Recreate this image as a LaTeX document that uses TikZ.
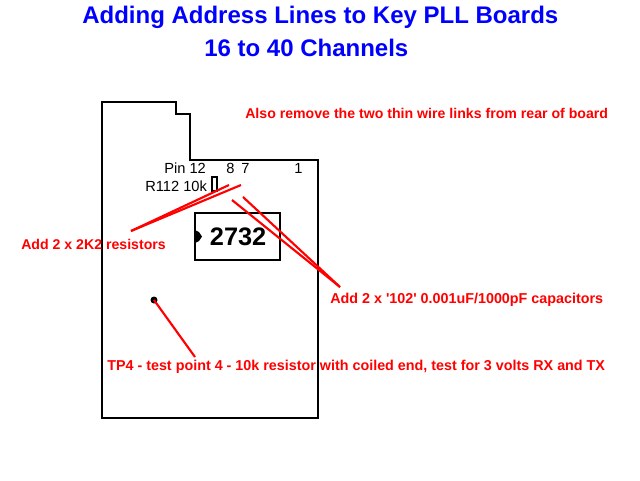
\documentclass[tikz,border=0pt]{standalone}
\usepackage{fontspec}
\setmainfont{Liberation Sans}
\definecolor{wirered}{RGB}{255,0,0}
\definecolor{titleblue}{RGB}{0,0,255}
\tikzset{
  board/.style={draw=black,line width=1.5pt},
  redlink/.style={draw=wirered,line width=1.6pt},
  redlabel/.style={text=wirered,inner sep=0pt,font=\bfseries\fontsize{10.6}{12}\selectfont},
  redwide/.style={redlabel,font=\bfseries\fontsize{10.75}{12}\selectfont},
  blacklabel/.style={text=black,inner sep=0pt,font=\fontsize{11}{12}\selectfont},
  titlelabel/.style={text=titleblue,inner sep=0pt,font=\bfseries\fontsize{18}{20}\selectfont}
}
\begin{document}
\begin{tikzpicture}[x=.75pt,y=-.75pt]
\useasboundingbox (0,0) rectangle (640,480);
\node[titlelabel,anchor=west] (title1) at (82,17) {Adding Address Lines to Key PLL Boards};
\node[titlelabel,anchor=west] (title2) at (204,48) {16 to 40 Channels};
% board outline
\draw[board] (102,102) -- (176,102) -- (176,114) -- (190,114) -- (190,160) -- (318,160) -- (318,418) -- (102,418) -- cycle;
% eprom
\node[board,minimum width=63.75pt,minimum height=35.25pt,inner sep=0pt,font=\bfseries\fontsize{19}{20}\selectfont] (chip) at (237.5,236.5) {\hspace{1pt}2732};
\fill (195,230) -- (199,232) -- (202,236.5) -- (199,241) -- (195,243) -- cycle;
\draw[draw=black,line width=1pt] (212,177) rectangle (217,191);
\fill (154,300) circle(3.5);
\node[blacklabel,anchor=west] (pin12) at (164,168) {Pin 12};
\node[blacklabel,anchor=west] (pin8) at (226,168) {8};
\node[blacklabel,anchor=west] (pin7) at (241,168) {7};
\node[blacklabel,anchor=west] (pin1) at (294,168) {1};
\node[blacklabel,anchor=west] (r112) at (145,186) {R112 10k};
\node[redlabel,anchor=west] (note) at (245,113) {Also remove the two thin wire links from rear of board};
\node[redlabel,anchor=west] (resnote) at (21,244) {Add 2 x 2K2 resistors};
\node[redwide,anchor=west] (capnote) at (330,300) {Add 2 x \textquotesingle 102\textquotesingle\ 0.001uF/1000pF capacitors};
\node[redwide,anchor=west] (tpnote) at (107,367) {TP4 - test point 4 - 10k resistor with coiled end, test for 3 volts RX and TX};
% red links
\coordinate (res) at (131,231);
\coordinate (res8) at (229,185);
\coordinate (res7) at (241,185);
\coordinate (cap) at (340,287);
\coordinate (cap8) at (232,200);
\coordinate (cap7) at (243,197);
\coordinate (tp) at (154,300);
\coordinate (tpend) at (195,357);
\draw[redlink] (res) -- (res8);
\draw[redlink] (res) -- (res7);
\draw[redlink] (cap) -- (cap8);
\draw[redlink] (cap) -- (cap7);
\draw[redlink] (tp) -- (tpend);
\end{tikzpicture}
\end{document}
